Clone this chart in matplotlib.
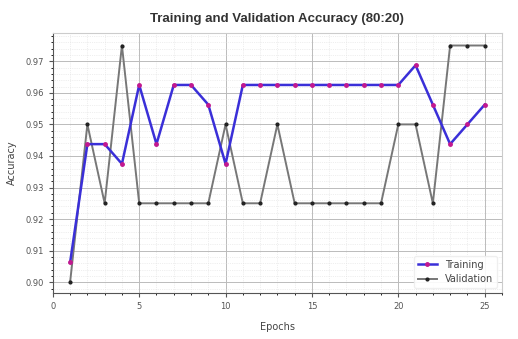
import numpy as np
import matplotlib.pyplot as plt
from matplotlib.ticker import AutoMinorLocator

epochs = list(range(1, 26))
train_acc = [0.90625, 0.94375, 0.94375, 0.9375, 0.9625, 0.94375, 0.9625, 0.9625, 0.95625, 0.9375,
             0.9625, 0.9625, 0.9625, 0.9625, 0.9625, 0.9625, 0.9625, 0.9625, 0.9625, 0.9625,
             0.96875, 0.95625, 0.94375, 0.95, 0.95625]
val_acc = [0.900, 0.950, 0.925, 0.975, 0.925, 0.925, 0.925, 0.925, 0.925, 0.950,
           0.925, 0.925, 0.950, 0.925, 0.925, 0.925, 0.925, 0.925, 0.925, 0.950,
           0.950, 0.925, 0.975, 0.975, 0.975]

fig = plt.figure(figsize=(5.18, 3.39), dpi=100)
ax = fig.add_axes([0.102, 0.135, 0.867, 0.768])

ax.plot(epochs, train_acc, color='#3a2fd8', lw=1.8, marker='o', ms=2.5,
        mfc='#c2188f', mec='#c2188f', label='Training', zorder=3)
ax.plot(epochs, val_acc, color='#777777', lw=1.4, marker='o', ms=2,
        mfc='#222222', mec='#222222', label='Validation', zorder=2)

ax.set_xlim(0, 26)
ax.set_ylim(0.8965, 0.979)
ax.set_xticks([0, 5, 10, 15, 20, 25])
ax.set_yticks([0.90, 0.91, 0.92, 0.93, 0.94, 0.95, 0.96, 0.97])
ax.xaxis.set_minor_locator(AutoMinorLocator(5))
ax.yaxis.set_minor_locator(AutoMinorLocator(5))
ax.grid(True, which='major', color='#bbbbbb', lw=0.7)
ax.grid(True, which='minor', color='#e0e0e0', lw=0.5, ls=':')
ax.tick_params(labelsize=6, colors='#555555', length=3)
ax.tick_params(which='minor', length=1.5)
for s in ['top', 'right']:
    ax.spines[s].set_color('#cccccc')
for s in ['left', 'bottom']:
    ax.spines[s].set_color('#555555')

ax.set_title('Training and Validation Accuracy (80:20)', fontsize=9.5, fontweight='bold',
             color='#333333', pad=8, family='Liberation Sans')
ax.set_xlabel('Epochs', fontsize=7, color='#444444', labelpad=8)
ax.set_ylabel('Accuracy', fontsize=7, color='#444444', labelpad=6)
ax.legend(loc='lower right', fontsize=7, frameon=True, framealpha=0.9, edgecolor='#eeeeee',
          labelcolor='#444444')

plt.savefig('out.png', dpi=100)
